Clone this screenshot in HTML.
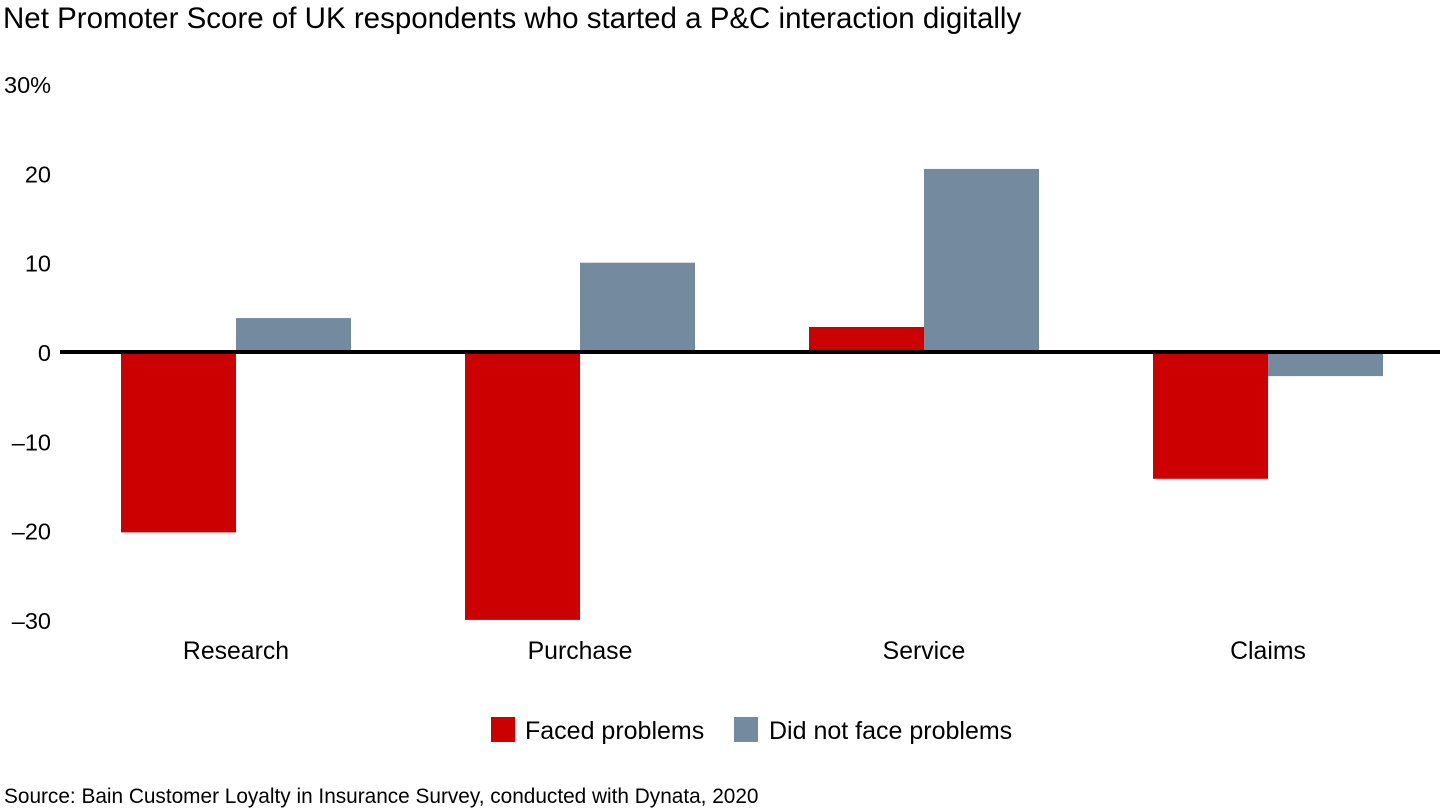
<!DOCTYPE html>
<html><head><meta charset="utf-8"><style>
body{margin:0;background:#fff;font-family:"Liberation Sans",Arial,sans-serif;}
svg{display:block}
</style></head><body>
<svg width="1440" height="810" viewBox="0 0 1440 810">
<text x="3" y="28" font-size="29.5" fill="#000">Net Promoter Score of UK respondents who started a P&amp;C interaction digitally</text>
<g id="yaxis"></g>
<g id="bars"></g>
<line x1="60" x2="1440" y1="352" y2="352" stroke="#000" stroke-width="4"/>
<g id="xaxis"></g>
<g>
<g>
<rect x="491" y="717" width="24" height="25" fill="#cc0000"/>
<text x="525" y="739" font-size="25">Faced problems</text></g>
<g>
<rect x="734" y="717" width="24" height="25" fill="#748a9e"/>
<text x="769" y="739" font-size="25">Did not face problems</text></g>
</g>
<text x="4" y="803" font-size="20.8">Source: Bain Customer Loyalty in Insurance Survey, conducted with Dynata, 2020</text>
</svg>
<script>
const categories=["Research","Purchase","Service","Claims"];
const faced=[-20.2,-30,2.8,-14.2];
const notFaced=[3.8,10,20.5,-2.7];
const ticks=[30,20,10,0,-10,-20,-30];
const tickLabels=["30%","20","10","0","\u201310","\u201320","\u201330"];
const NS="http://www.w3.org/2000/svg";
const y=v=>352-v*8.93;
const x=i=>236+i*344;
const bw=115;
const ya=document.getElementById('yaxis');
ticks.forEach((t,i)=>{
 const e=document.createElementNS(NS,'text');
 
 
 e.setAttribute('x',i===0?4:51);
 e.setAttribute('text-anchor',i===0?'start':'end');
 e.setAttribute('y',y(t)+9);
 e.setAttribute('font-size','23.5');
 e.textContent=tickLabels[i];ya.appendChild(e);
});
const bg=document.getElementById('bars');
function bar(v,xs,col,name){
 const r=document.createElementNS(NS,'rect');
 
 
 r.setAttribute('x',xs);r.setAttribute('width',bw);
 r.setAttribute('y',Math.min(y(v),y(0)));
 r.setAttribute('height',Math.abs(y(v)-y(0)));
 r.setAttribute('fill',col);bg.appendChild(r);
}
const xa=document.getElementById('xaxis');
categories.forEach((c,i)=>{
 bar(faced[i],x(i)-bw,'#cc0000','bar-faced-'+c.toLowerCase());
 bar(notFaced[i],x(i),'#748a9e','bar-not-faced-'+c.toLowerCase());
 const e=document.createElementNS(NS,'text');
 
 
 e.setAttribute('x',x(i));e.setAttribute('y',659);
 e.setAttribute('text-anchor','middle');e.setAttribute('font-size','24.8');
 e.textContent=c;xa.appendChild(e);
});
</script>
</body></html>
